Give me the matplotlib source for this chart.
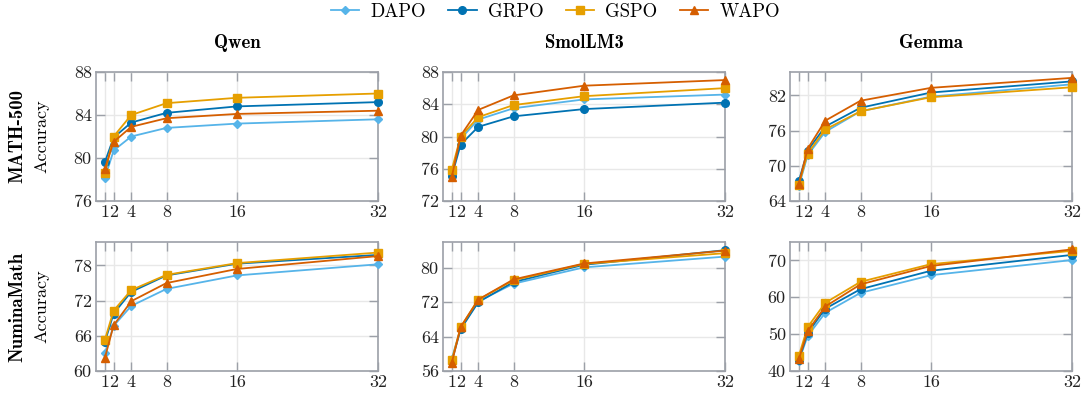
import matplotlib
matplotlib.use("Agg")
import matplotlib.pyplot as plt

steps = [1, 2, 4, 8, 16, 32]
methods = ["DAPO", "GRPO", "GSPO", "WAPO"]
colors = {"DAPO": "#56B4E9", "GRPO": "#0072B2", "GSPO": "#E69F00", "WAPO": "#D55E00"}
markers = {"DAPO": "D", "GRPO": "o", "GSPO": "s", "WAPO": "^"}
msizes = {"DAPO": 4, "GRPO": 5.5, "GSPO": 5.5, "WAPO": 5.5}

models = ["Qwen", "SmolLM3", "Gemma"]
datasets = ["MATH-500", "NuminaMath"]

# accuracy values
qwen_math = {
    "DAPO": [78.1, 80.7, 82.0, 82.8, 83.2, 83.6],
    "GRPO": [79.6, 81.9, 83.3, 84.2, 84.8, 85.2],
    "GSPO": [78.6, 82.0, 84.0, 85.1, 85.6, 86.0],
    "WAPO": [79.0, 81.5, 82.9, 83.7, 84.1, 84.4],
}
smol_math = {
    "DAPO": [75.5, 79.7, 82.1, 83.5, 84.6, 85.2],
    "GRPO": [75.1, 79.0, 81.2, 82.5, 83.4, 84.2],
    "GSPO": [75.9, 80.0, 82.4, 83.9, 85.0, 86.0],
    "WAPO": [75.0, 80.1, 83.3, 85.1, 86.3, 87.0],
}
gemma_math = {
    "DAPO": [66.5, 71.8, 75.8, 79.3, 81.8, 83.9],
    "GRPO": [67.4, 72.6, 76.7, 79.9, 82.5, 84.4],
    "GSPO": [66.8, 72.1, 76.2, 79.3, 81.7, 83.4],
    "WAPO": [66.9, 72.9, 77.7, 81.1, 83.3, 85.0],
}
qwen_numina = {
    "DAPO": [63.0, 67.7, 71.1, 74.0, 76.3, 78.2],
    "GRPO": [64.9, 69.8, 73.5, 76.3, 78.3, 79.8],
    "GSPO": [65.3, 70.3, 73.8, 76.4, 78.4, 80.2],
    "WAPO": [62.2, 67.8, 71.9, 75.0, 77.4, 79.6],
}
smol_numina = {
    "DAPO": [58.9, 65.9, 72.2, 76.3, 80.1, 82.6],
    "GRPO": [58.3, 65.7, 72.0, 76.7, 80.7, 84.1],
    "GSPO": [58.5, 66.2, 72.6, 77.1, 80.9, 83.4],
    "WAPO": [57.9, 66.2, 72.6, 77.3, 81.0, 84.0],
}
gemma_numina = {
    "DAPO": [42.7, 49.5, 55.8, 61.2, 66.0, 70.1],
    "GRPO": [42.9, 50.3, 56.9, 62.2, 67.2, 71.5],
    "GSPO": [44.1, 51.9, 58.5, 64.2, 69.0, 72.6],
    "WAPO": [43.2, 50.8, 57.5, 63.5, 68.5, 73.0],
}

data = [[qwen_math, smol_math, gemma_math],
        [qwen_numina, smol_numina, gemma_numina]]
ylims = [[(76, 88), (72, 88), (64, 86)],
         [(60, 82), (56, 86), (40, 75)]]
yticks = [[[76, 80, 84, 88], [72, 76, 80, 84, 88], [64, 70, 76, 82]],
          [[60, 66, 72, 78], [56, 64, 72, 80], [40, 50, 60, 70]]]

spine_col = "#9ca0a8"
fig = plt.figure(figsize=(10.89, 4.03), dpi=100)

lefts = [96, 443, 790]
tops = [72, 242]
W, H = 282, 129
handles = []
for r in range(2):
    for c in range(3):
        ax = fig.add_axes([lefts[c] / 1089, 1 - (tops[r] + H) / 403, W / 1089, H / 403])
        for m in methods:
            ln, = ax.plot(steps, data[r][c][m], color=colors[m], marker=markers[m],
                          markersize=msizes[m], linewidth=1.3, label=m, clip_on=False, zorder=3)
            if r == 0 and c == 0:
                handles.append(ln)
        ax.set_xlim(0, 32)
        ax.set_ylim(*ylims[r][c])
        ax.set_xticks(steps)
        ax.set_xticklabels([str(s) for s in steps], family="cmr10", fontsize=13)
        ax.set_yticks(yticks[r][c])
        ax.set_yticklabels([str(t) for t in yticks[r][c]], family="cmr10", fontsize=13)
        ax.grid(True, color="#e8e8e8", linewidth=1.0, zorder=0)
        ax.set_axisbelow(True)
        ax.tick_params(direction="in", length=6.5, width=1.0, color=spine_col,
                       top=True, right=True, pad=3, labelcolor="#222222")
        for s in ax.spines.values():
            s.set_color(spine_col)
            s.set_linewidth(1.2)
        if r == 0:
            ax.set_title(models[c], family="cmb10", fontsize=13.5, pad=17)
        if c == 0:
            yc = 1 - (tops[r] + H / 2) / 403
            fig.text(17 / 1089, yc, datasets[r], family="cmb10", fontsize=13.5,
                     rotation=90, ha="center", va="center")
            fig.text(42 / 1089, yc, "Accuracy", family="cmr10", fontsize=13,
                     rotation=90, ha="center", va="center")

fig.legend(handles=handles, labels=methods, loc="center", bbox_to_anchor=(0.51, 1 - 12 / 403),
           ncol=4, frameon=False, prop={"family": "cmr10", "size": 13.5},
           handlelength=1.5, columnspacing=1.2, handletextpad=0.6)

fig.savefig("out.png", dpi=100)
